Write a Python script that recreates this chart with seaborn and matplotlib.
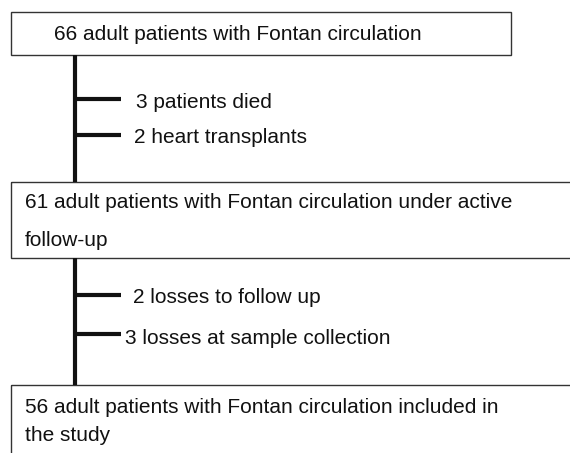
import matplotlib
matplotlib.use("Agg")
import matplotlib.pyplot as plt
import seaborn as sns
import pandas as pd
from matplotlib.patches import Rectangle

sns.set_theme(style="white")
plt.rcParams['font.family'] = ['Liberation Sans', 'DejaVu Sans']

# Data
box_texts = [
    "66 adult patients with Fontan circulation",
    "61 adult patients with Fontan circulation under active\nfollow-up",
    "56 adult patients with Fontan circulation included in\nthe study",
]
exclusion_texts = [
    "3 patients died",
    "2 heart transplants",
    "2 losses to follow up",
    "3 losses at sample collection",
]

W, H = 570, 453
fig = plt.figure(figsize=(W / 100, H / 100), dpi=100)
ax = fig.add_axes([0, 0, 1, 1])

# layout (pixel coordinates)
boxes = [(11, 12, 500, 43), (11, 182, 600, 76), (11, 385, 600, 100)]
box_text_x = [54, 25, 25]
box_baselines = [[40.5], [208, 246], [413, 441]]
stem_x = 75
branch_y = [99, 135, 295, 334]
branch_end = 121
text_x = [136, 134, 133, 125]
text_baselines = [107.5, 143, 303, 344]

for (x, y, w, h), txt, tx, lys in zip(boxes, box_texts, box_text_x, box_baselines):
    ax.add_patch(Rectangle((x, y), w, h, fill=False, edgecolor="#333333", lw=1.0))
    for line, ly in zip(txt.split("\n"), lys):
        ax.text(tx, ly, line, fontsize=15, va="baseline", ha="left", color="#111111")

# vertical connectors
segs = pd.DataFrame({
    "x": [stem_x, stem_x, stem_x, stem_x],
    "y": [55, 182, 258, 385],
    "seg": [0, 0, 1, 1],
})
for s, d in segs.groupby("seg"):
    sns.lineplot(data=d, x="x", y="y", ax=ax, color="#111111", lw=3.0,
                 sort=False, estimator=None, legend=False,
                 solid_capstyle="butt")

# branches
for by, tx, tb, txt in zip(branch_y, text_x, text_baselines, exclusion_texts):
    d = pd.DataFrame({"x": [stem_x, branch_end], "y": [by, by]})
    sns.lineplot(data=d, x="x", y="y", ax=ax, color="#111111", lw=3.0,
                 estimator=None, legend=False, solid_capstyle="butt")
    ax.text(tx, tb, txt, fontsize=15, va="baseline", ha="left", color="#111111")

ax.set_xlim(0, W)
ax.set_ylim(H, 0)
ax.axis("off")
fig.savefig("out.png", dpi=100)
